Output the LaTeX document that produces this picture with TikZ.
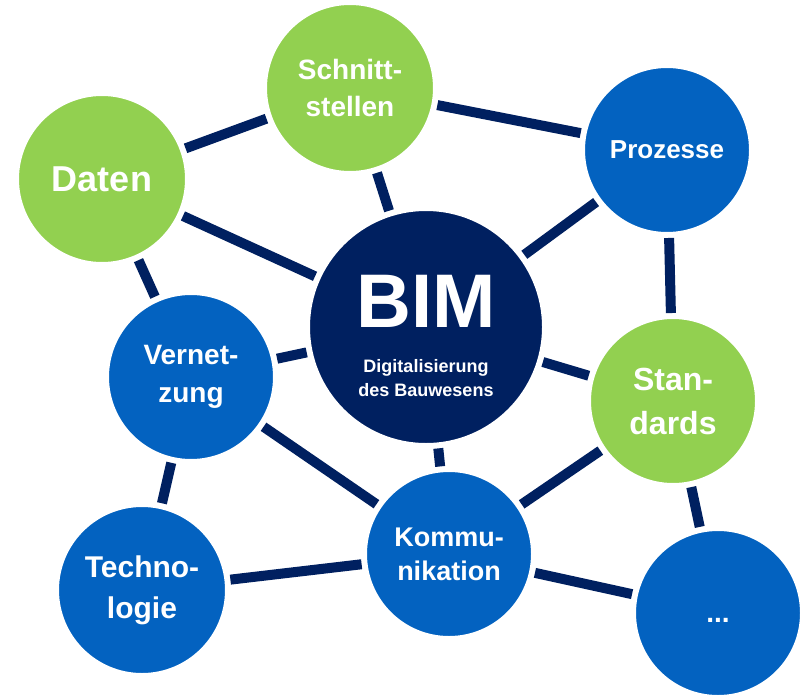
\documentclass[tikz,border=0pt]{standalone}
\usepackage{fontspec}
\setmainfont{Liberation Sans}
\usepackage{tikz}
\definecolor{bimnavy}{RGB}{0,32,96}
\definecolor{bimblue}{RGB}{3,98,192}
\definecolor{bimgreen}{RGB}{146,208,80}
\tikzstyle{bubble}      = [circle, draw=white, line width=6pt, inner sep=0pt, minimum size=170pt, text=white, align=center]
\tikzstyle{greenbubble} = [bubble, fill=bimgreen]
\tikzstyle{bluebubble}  = [bubble, fill=bimblue]
\tikzstyle{link}        = [bimnavy, line width=10pt]

\begin{document}
\begin{tikzpicture}[x=1pt,y=-1pt]
		\useasboundingbox (0,0) rectangle (800,696);

		\node[greenbubble, minimum size=172pt, font=\bfseries\fontsize{36}{40}\selectfont] (daten) at (102,179) {Daten};
		\node[greenbubble, minimum size=172pt, font=\bfseries\fontsize{28}{37}\selectfont] (schnitt) at (350,88) {Schnitt-\\stellen};
		\node[bluebubble, font=\bfseries\fontsize{26}{30}\selectfont] (prozesse) at (667,150) {Prozesse};
		\node[bubble, fill=bimnavy, minimum size=238pt] (bim) at (426,327) {};
		\node[bluebubble, font=\bfseries\fontsize{28}{38}\selectfont] (vernetzung) at (191,377) {Vernet-\\zung};
		\node[greenbubble, font=\bfseries\fontsize{32}{44}\selectfont] (standards) at (673,401) {Stan-\\dards};
		\node[bluebubble, minimum size=172pt, font=\bfseries\fontsize{30}{41}\selectfont] (technologie) at (142,590) {Techno-\\logie};
		\node[bluebubble, font=\bfseries\fontsize{27}{34}\selectfont] (kommunikation) at (449,554) {Kommu-\\nikation};
		\node[bluebubble, font=\bfseries\fontsize{28}{30}\selectfont] (weitere) at (718,613) {\rule{0pt}{19pt}...};

		\node[anchor=base, text=white, inner sep=0pt, font=\bfseries\fontsize{76}{76}\selectfont] (bimtitle) at (bim.center) {BIM};
		\node[text=white, align=center, inner sep=0pt, font=\bfseries\fontsize{18}{24}\selectfont] (bimsub) at (426,378.5) {Digitalisierung\\des Bauwesens};

		\draw[link] (daten) -- (schnitt);
		\draw[link] (daten) -- (bim);
		\draw[link] (daten) -- (vernetzung);
		\draw[link] (schnitt) -- (bim);
		\draw[link] (schnitt) -- (prozesse);
		\draw[link] (prozesse) -- (bim);
		\draw[link] (prozesse) -- (standards);
		\draw[link] (bim) -- (vernetzung);
		\draw[link] (bim) -- (standards);
		\draw[link] (bim) -- (kommunikation);
		\draw[link] (vernetzung) -- (kommunikation);
		\draw[link] (vernetzung) -- (technologie);
		\draw[link] (technologie) -- (kommunikation);
		\draw[link] (kommunikation) -- (standards);
		\draw[link] (kommunikation) -- (weitere);
		\draw[link] (standards) -- (weitere);
	\end{tikzpicture}
\end{document}
